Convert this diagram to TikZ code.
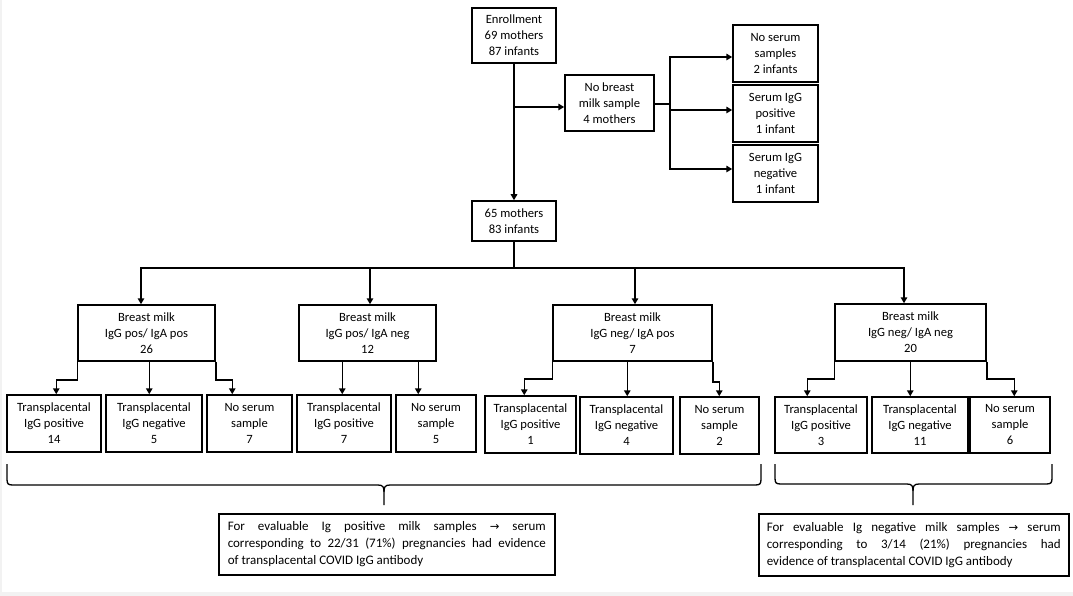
\documentclass[tikz,border=0pt]{standalone}
\usepackage{fontspec}
\setmainfont{Carlito}
\newfontfamily\arrowfont{DejaVu Sans}
\usetikzlibrary{arrows.meta,calc}
\newcommand\fs{\fontsize{12.6}{16}\selectfont}
\newcommand\fst{\fontsize{13}{17}\selectfont}
\newcommand\arr{{\arrowfont\fontsize{11.5}{17}\selectfont →}}
\newcommand\bxnode[6]{\node[bx, minimum width={(#4)-(#2)}, minimum height={(#5)-(#3)}] (#1) at ({((#2)+(#4))/2},{((#3)+(#5))/2}) {#6};}
\begin{document}
\begin{tikzpicture}[x=1pt,y=-1pt,
  bx/.style={draw, line width=1.5pt, inner sep=0pt, align=center, font=\fs},
  conn/.style={line width=1.5pt, -{Triangle[length=6pt,width=6.5pt]}, line join=miter},
  ln/.style={line width=1.5pt},
  brc/.style={line width=1.3pt},
  note/.style={draw, line width=1.5pt, align=justify, font=\fst, anchor=north west, inner ysep=0pt}]
\useasboundingbox (0,0) rectangle (1073,596);
\fill[gray!10] (0,592) rectangle (1073,596);
\fill[gray!10] (0,0) rectangle (2,596);

\bxnode{enr}{472}{8}{556}{63}{Enrollment\\69 mothers\\87 infants}
\bxnode{nb}{565}{75}{654}{131}{No breast\\milk sample\\4 mothers}
\bxnode{r1}{733}{25}{818}{82}{No serum\\samples\\2 infants}
\bxnode{r2}{733}{85}{818}{142}{Serum IgG\\positive\\1 infant}
\bxnode{r3}{733}{145}{818}{202}{Serum IgG\\negative\\1 infant}
\bxnode{m65}{472}{201}{556}{241}{65 mothers\\83 infants}
\bxnode{b1}{78}{305}{215}{361}{Breast milk\\IgG pos/ IgA pos\\26}
\bxnode{b2}{299}{305}{436}{361}{Breast milk\\IgG pos/ IgA neg\\12}
\bxnode{b3}{553}{305}{712}{361}{Breast milk\\IgG neg/ IgA pos\\7}
\bxnode{b4}{835}{304}{986}{361}{Breast milk\\IgG neg/ IgA neg\\20}

\bxnode{ca}{7}{395}{101}{452}{Transplacental\\IgG positive\\14}
\bxnode{cb}{106}{395}{202}{452}{Transplacental\\IgG negative\\5}
\bxnode{cc}{207}{395}{292}{452}{No serum\\sample\\7}
\bxnode{cd}{297}{395}{391}{452}{Transplacental\\IgG positive\\7}
\bxnode{ce}{396}{395}{476}{452}{No serum\\sample\\5}
\bxnode{cf}{485}{396}{576}{453}{Transplacental\\IgG positive\\1}
\bxnode{cg}{580}{397}{673}{454}{Transplacental\\IgG negative\\4}
\bxnode{ch}{680}{397}{759}{454}{No serum\\sample\\2}
\bxnode{ci}{775}{397}{867}{453}{Transplacental\\IgG positive\\3}
\bxnode{cj}{872}{397}{968}{453}{Transplacental\\IgG negative\\11}
\bxnode{ck}{970}{397}{1050}{453}{No serum\\sample\\6}

% top part
\draw[conn] (enr.south) -- (m65.north);
\coordinate (j1) at (514,107);
\draw[conn] (j1) -- (j1 -| nb.west);
\coordinate (fan) at (670,104);
\coordinate (f1) at (670,57);
\coordinate (f2) at (670,110);
\coordinate (f3) at (670,169);
\draw[conn] (nb.east |- fan) -- (fan) |- (r1.west |- f1);
\draw[conn] (fan) |- (r2.west |- f2);
\draw[conn] (fan) |- (r3.west |- f3);

% tree
\coordinate (hj) at (514,268);
\coordinate (t1) at (141,268);
\coordinate (t2) at (370,268);
\coordinate (t3) at (635,268);
\coordinate (t4) at (904,268);
\draw[ln] (m65.south) -- (hj);
\draw[conn] (hj) -| (t1 |- b1.north);
\draw[conn] (hj) -| (t2 |- b2.north);
\draw[conn] (hj) -| (t3 |- b3.north);
\draw[conn] (hj) -| (t4 |- b4.north);

% children of b1
\draw[conn] (b1.south west) -- ++(0,18) -| ($(ca.north west)+(50,0)$);
\coordinate (pb) at ($(cb.north west)+(44,0)$);
\draw[conn] (pb |- b1.south) -- (pb);
\draw[conn] (b1.south east) -- ++(0,18) -| ($(cc.north west)+(26,0)$);
% children of b2
\coordinate (pd) at ($(cd.north west)+(46,0)$);
\draw[conn] (pd |- b2.south) -- (pd);
\coordinate (pe) at ($(ce.north west)+(23,0)$);
\draw[conn] (pe |- b2.south) -- (pe);
% children of b3
\draw[conn] (b3.south west) -- ++(0,17) -| ($(cf.north west)+(40,0)$);
\coordinate (pg) at ($(cg.north west)+(48,0)$);
\draw[conn] (pg |- b3.south) -- (pg);
\draw[conn] (b3.south east) -- ++(0,20) -| ($(ch.north west)+(40,0)$);
% children of b4
\draw[conn] (b4.south west) -- ++(0,17) -| ($(ci.north west)+(33,0)$);
\coordinate (pj) at ($(cj.north west)+(39,0)$);
\draw[conn] (pj |- b4.south) -- (pj);
\draw[conn] (b4.south east) -- ++(0,17) -| ($(ck.north west)+(45,0)$);

% braces
\draw[brc] (7,464) -- (7,479) .. controls (7,484) and (8,485) .. (13,485) -- (378,485) .. controls (383,485) and (384,487) .. (384,492) -- (384,505);
\draw[brc] (384,492) .. controls (384,487) and (385,485) .. (390,485) -- (755,485) .. controls (760,485) and (761,484) .. (761,479) -- (761,464);
\draw[brc] (775,464) -- (775,478) .. controls (775,483) and (776,484) .. (781,484) -- (907,484) .. controls (912,484) and (913,486) .. (913,491) -- (913,505);
\draw[brc] (913,491) .. controls (913,486) and (914,484) .. (919,484) -- (1046,484) .. controls (1051,484) and (1052,483) .. (1052,478) -- (1052,464);

% notes
\node[note, text width=318pt, inner xsep=9pt, minimum height=61pt] (n1) at (218,513) {For evaluable Ig positive milk samples \arr{} serum\linebreak corresponding to 22/31 (71\%) pregnancies had evidence\linebreak of transplacental COVID IgG antibody};
\node[note, text width=294pt, inner xsep=8pt, minimum height=62pt] (n2) at (758,513) {For evaluable Ig negative milk samples \arr{} serum\linebreak corresponding to 3/14 (21\%) pregnancies had\linebreak evidence of transplacental COVID IgG antibody};
\end{tikzpicture}
\end{document}
